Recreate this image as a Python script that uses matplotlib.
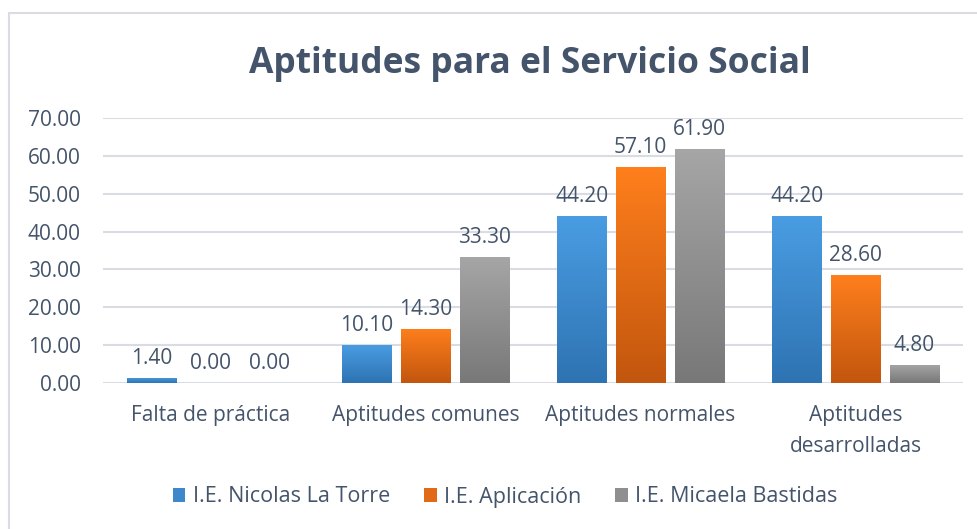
import numpy as np
import matplotlib
matplotlib.use('Agg')
import matplotlib.pyplot as plt
from matplotlib.colors import LinearSegmentedColormap, to_rgb, to_hex
from matplotlib.patches import Rectangle, Patch

plt.rcParams['font.family'] = ['Open Sans', 'DejaVu Sans']

categories = ["Falta de práctica", "Aptitudes comunes", "Aptitudes normales",
              "Aptitudes\ndesarrolladas"]
series = ["I.E. Nicolas La Torre", "I.E. Aplicación", "I.E. Micaela Bastidas"]
nicolas = [1.40, 10.10, 44.20, 44.20]
aplicacion = [0.00, 14.30, 57.10, 28.60]
micaela = [0.00, 33.30, 61.90, 4.80]
yticks = [0, 10, 20, 30, 40, 50, 60, 70]

# (top colour, bottom colour) per series
gradients = [("#4a9de3", "#2e73b2"),
             ("#ff7f1c", "#c2560e"),
             ("#a6a6a6", "#787878")]
text_color = "#44546a"
grid_color = "#d9dde3"

W, H = 977, 529
fig = plt.figure(figsize=(W / 100, H / 100), dpi=100)
ax = fig.add_axes([103 / W, (H - 383) / H, 860 / W, 265 / H])

# chart border
fig.patches.append(Rectangle((9 / W, -0.05), 1.2, (H - 13) / H + 0.05,
                             transform=fig.transFigure, fill=False,
                             edgecolor="#d9dde3", linewidth=1.5))

x = np.arange(len(categories))
width = 0.228
step = 0.274
values = [nicolas, aplicacion, micaela]

for i, (vals, (c_top, c_bot)) in enumerate(zip(values, gradients)):
    cmap = LinearSegmentedColormap.from_list("g%d" % i, [c_bot, c_top])
    pos = x + (i - 1) * step
    bars = ax.bar(pos, vals, width, color="none", edgecolor="none", zorder=3)
    for b, v in zip(bars, vals):
        if v > 0:
            x0, y0 = b.get_x(), b.get_y()
            grad = np.linspace(0, 1, 256).reshape(-1, 1)
            im = ax.imshow(grad, cmap=cmap, origin="lower", aspect="auto",
                           extent=[x0, x0 + b.get_width(), y0, y0 + v],
                           zorder=3, interpolation="bilinear")
            im.set_clip_path(b)
        ax.text(b.get_x() + b.get_width() / 2, v + 2.3, "%.2f" % v,
                ha="center", va="bottom", fontsize=15, color=text_color)

ax.set_xlim(-0.5, len(categories) - 0.5)
ax.set_ylim(0, 70)
ax.set_yticks(yticks)
ax.set_yticklabels(["%.2f" % t for t in yticks])
ax.set_xticks(x)
ax.set_xticklabels(categories, linespacing=1.6, va="top")
ax.tick_params(axis="both", length=0, labelsize=15, labelcolor=text_color)
ax.tick_params(axis="y", pad=16)
ax.tick_params(axis="x", pad=16)
ax.grid(axis="y", color=grid_color, linewidth=1.5, zorder=0)
ax.set_axisbelow(True)
for s in ax.spines.values():
    s.set_visible(False)

fig.text(0.542, (H - 64) / H, "Aptitudes para el Servicio Social",
         ha="center", va="center", fontsize=25.5, fontweight="bold",
         color=text_color)

handles = [Patch(facecolor=to_hex(np.mean([to_rgb(a), to_rgb(b)], axis=0)),
                 edgecolor="none") for a, b in gradients]
fig.legend(handles, series, loc="center", bbox_to_anchor=(505 / W, (H - 497) / H),
           ncol=3, frameon=False, fontsize=15.5, labelcolor=text_color,
           handlelength=0.6, handleheight=0.6, handletextpad=0.35,
           columnspacing=1.55)

fig.savefig("out.png", dpi=100)
